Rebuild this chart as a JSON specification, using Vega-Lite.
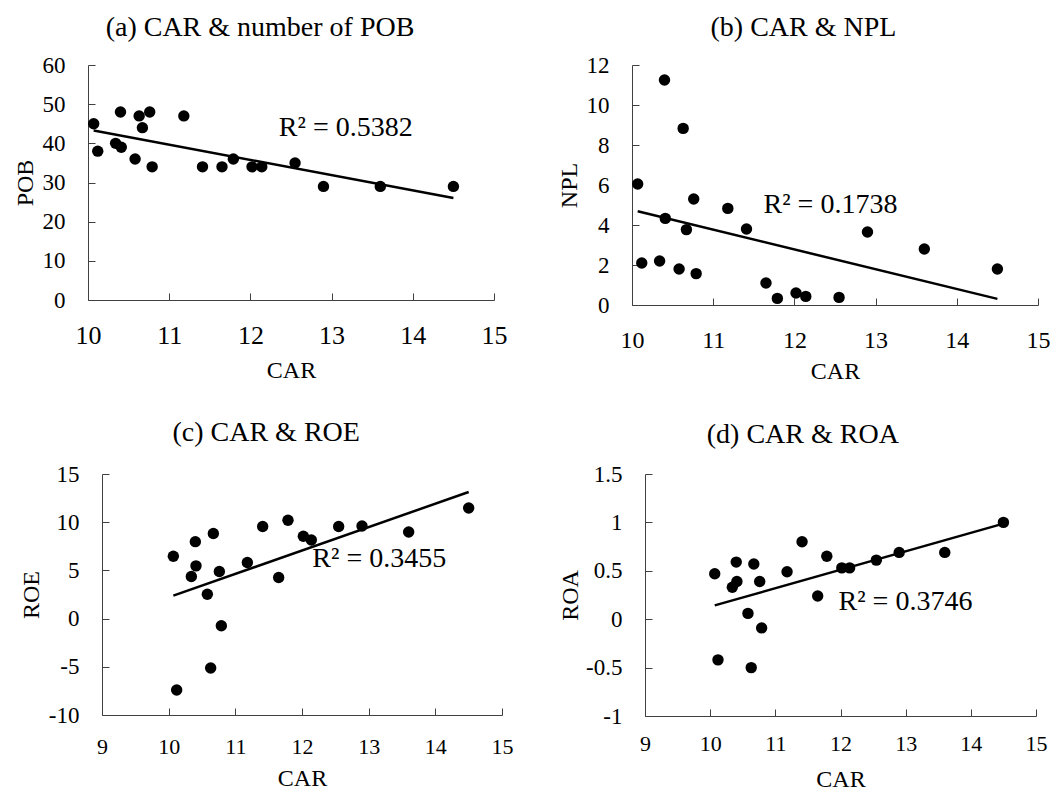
{
  "$schema": "https://vega.github.io/schema/vega-lite/v6.json",
  "padding": {"left": 13, "top": 14, "right": 0, "bottom": 0},
  "background": "white",
  "data": {"values": [
    {"CAR": 10.07, "POB": 45, "NPL": 6.05, "ROE": 6.47, "ROA": 0.47},
    {"CAR": 10.12, "POB": 38, "NPL": 2.1, "ROE": -7.4, "ROA": -0.42},
    {"CAR": 10.34, "POB": 40, "NPL": 2.2, "ROE": 4.36, "ROA": 0.33},
    {"CAR": 10.40, "POB": 48, "NPL": 11.25, "ROE": 7.98, "ROA": 0.59},
    {"CAR": 10.41, "POB": 39, "NPL": 4.33, "ROE": 5.47, "ROA": 0.39},
    {"CAR": 10.58, "POB": 36, "NPL": 1.8, "ROE": 2.53, "ROA": 0.06},
    {"CAR": 10.63, "POB": 47, "NPL": 8.83, "ROE": -5.13, "ROA": -0.5},
    {"CAR": 10.67, "POB": 44, "NPL": 3.77, "ROE": 8.82, "ROA": 0.57},
    {"CAR": 10.76, "POB": 48, "NPL": 5.3, "ROE": 4.88, "ROA": 0.39},
    {"CAR": 10.79, "POB": 34, "NPL": 1.57, "ROE": -0.74, "ROA": -0.09},
    {"CAR": 11.18, "POB": 47, "NPL": 4.83, "ROE": 5.82, "ROA": 0.49},
    {"CAR": 11.41, "POB": 34, "NPL": 3.8, "ROE": 9.55, "ROA": 0.8},
    {"CAR": 11.65, "POB": 34, "NPL": 1.1, "ROE": 4.26, "ROA": 0.24},
    {"CAR": 11.79, "POB": 36, "NPL": 0.33, "ROE": 10.2, "ROA": 0.65},
    {"CAR": 12.02, "POB": 34, "NPL": 0.6, "ROE": 8.54, "ROA": 0.53},
    {"CAR": 12.14, "POB": 34, "NPL": 0.43, "ROE": 8.16, "ROA": 0.53},
    {"CAR": 12.55, "POB": 35, "NPL": 0.38, "ROE": 9.55, "ROA": 0.61},
    {"CAR": 12.90, "POB": 29, "NPL": 3.65, "ROE": 9.61, "ROA": 0.69},
    {"CAR": 13.60, "POB": 29, "NPL": 2.8, "ROE": 8.99, "ROA": 0.69},
    {"CAR": 14.50, "POB": 29, "NPL": 1.8, "ROE": 11.48, "ROA": 1.0}
  ]},
  "config": {
    "view": {"stroke": null},
    "font": "Liberation Serif",
    "axis": {
      "grid": false,
      "domainColor": "#404040",
      "domainWidth": 1,
      "tickColor": "#404040",
      "tickWidth": 1,
      "tickSize": -7,
      "labelFont": "Liberation Serif",
      "titleFont": "Liberation Serif",
      "labelColor": "black",
      "titleColor": "black",
      "labelFontSize": 23,
      "titleFontSize": 24,
      "titleFontWeight": "normal",
      "labelPadding": 30,
      "labelFlush": false,
      "labelOverlap": false,
      "titlePadding": 5
    },
    "title": {"font": "Liberation Serif", "fontSize": 28, "fontWeight": "normal", "color": "black", "anchor": "middle", "frame": "bounds"}
  },
  "spacing": 36,
  "vconcat": [
    {
      "spacing": 50,
      "hconcat": [
        {
          "width": 406, "height": 235,
          "title": {"text": "(a) CAR & number of POB", "offset": 12},
          "encoding": {
            "x": {"field": "CAR", "type": "quantitative", "title": "CAR", "scale": {"domain": [10, 15], "nice": false, "zero": false},
                  "axis": {"values": [10, 11, 12, 13, 14, 15], "format": "d", "labelFontSize": 26, "labelOverlap": false, "labelPadding": 29, "titlePadding": 10}},
            "y": {"field": "POB", "type": "quantitative", "title": "POB", "scale": {"domain": [0, 60], "nice": false},
                  "axis": {"values": [0, 10, 20, 30, 40, 50, 60], "format": "d", "labelOverlap": false}}
          },
          "layer": [
            {"mark": {"type": "circle", "size": 130, "color": "black", "opacity": 1}},
            {"transform": [{"regression": "POB", "on": "CAR"}],
             "mark": {"type": "line", "color": "black", "strokeWidth": 2.5}},
            {"data": {"values": [{"CAR": 12.35, "POB": 41.8, "label": "R² = 0.5382"}]},
             "mark": {"type": "text", "align": "left", "baseline": "alphabetic", "fontSize": 28, "font": "Liberation Serif", "color": "black"},
             "encoding": {"text": {"field": "label"}}}
          ]
        },
        {
          "width": 406, "height": 240,
          "title": {"text": "(b) CAR & NPL", "offset": 12},
          "encoding": {
            "x": {"field": "CAR", "type": "quantitative", "title": "CAR", "scale": {"domain": [10, 15], "nice": false, "zero": false},
                  "axis": {"values": [10, 11, 12, 13, 14, 15], "format": "d", "labelFontSize": 24, "labelOverlap": false, "labelPadding": 30, "titlePadding": 7}},
            "y": {"field": "NPL", "type": "quantitative", "title": "NPL", "scale": {"domain": [0, 12], "nice": false},
                  "axis": {"values": [0, 2, 4, 6, 8, 10, 12], "format": "d", "labelOverlap": false}}
          },
          "layer": [
            {"mark": {"type": "circle", "size": 130, "color": "black", "opacity": 1}},
            {"transform": [{"regression": "NPL", "on": "CAR"}],
             "mark": {"type": "line", "color": "black", "strokeWidth": 2.5}},
            {"data": {"values": [{"CAR": 11.62, "NPL": 4.6, "label": "R² = 0.1738"}]},
             "mark": {"type": "text", "align": "left", "baseline": "alphabetic", "fontSize": 28, "font": "Liberation Serif", "color": "black"},
             "encoding": {"text": {"field": "label"}}}
          ]
        }
      ]
    },
    {
      "spacing": 45,
      "hconcat": [
        {
          "width": 414, "height": 241,
          "title": {"text": "(c) CAR & ROE", "offset": 16},
          "encoding": {
            "x": {"field": "CAR", "type": "quantitative", "title": "CAR", "scale": {"domain": [9, 15], "nice": false, "zero": false, "range": [14, 414]},
                  "axis": {"values": [9, 10, 11, 12, 13, 14, 15], "format": "d", "labelFontSize": 22, "labelOverlap": false, "labelPadding": 28, "titlePadding": 9}},
            "y": {"field": "ROE", "type": "quantitative", "title": "ROE", "scale": {"domain": [-10, 15], "nice": false},
                  "axis": {"values": [-10, -5, 0, 5, 10, 15], "labelExpr": "toString(datum.value)", "labelOverlap": false, "offset": -14}}
          },
          "layer": [
            {"mark": {"type": "circle", "size": 130, "color": "black", "opacity": 1}},
            {"transform": [{"regression": "ROE", "on": "CAR"}],
             "mark": {"type": "line", "color": "black", "strokeWidth": 2.5}},
            {"data": {"values": [{"CAR": 12.155, "ROE": 5.37, "label": "R² = 0.3455"}]},
             "mark": {"type": "text", "align": "left", "baseline": "alphabetic", "fontSize": 28, "font": "Liberation Serif", "color": "black"},
             "encoding": {"text": {"field": "label"}}}
          ]
        },
        {
          "width": 391, "height": 242,
          "title": {"text": "(d) CAR & ROA", "offset": 14.5},
          "encoding": {
            "x": {"field": "CAR", "type": "quantitative", "title": "CAR", "scale": {"domain": [9, 15], "nice": false, "zero": false},
                  "axis": {"values": [9, 10, 11, 12, 13, 14, 15], "format": "d", "labelFontSize": 22, "labelOverlap": false, "labelPadding": 24, "titlePadding": 13}},
            "y": {"field": "ROA", "type": "quantitative", "title": "ROA", "scale": {"domain": [-1, 1.5], "nice": false},
                  "axis": {"values": [-1, -0.5, 0, 0.5, 1, 1.5], "labelExpr": "toString(datum.value)", "labelOverlap": false, "titlePadding": 3}}
          },
          "layer": [
            {"mark": {"type": "circle", "size": 130, "color": "black", "opacity": 1}},
            {"transform": [{"regression": "ROA", "on": "CAR"}],
             "mark": {"type": "line", "color": "black", "strokeWidth": 2.5}},
            {"data": {"values": [{"CAR": 11.97, "ROA": 0.09, "label": "R² = 0.3746"}]},
             "mark": {"type": "text", "align": "left", "baseline": "alphabetic", "fontSize": 28, "font": "Liberation Serif", "color": "black"},
             "encoding": {"text": {"field": "label"}}}
          ]
        }
      ]
    }
  ]
}
